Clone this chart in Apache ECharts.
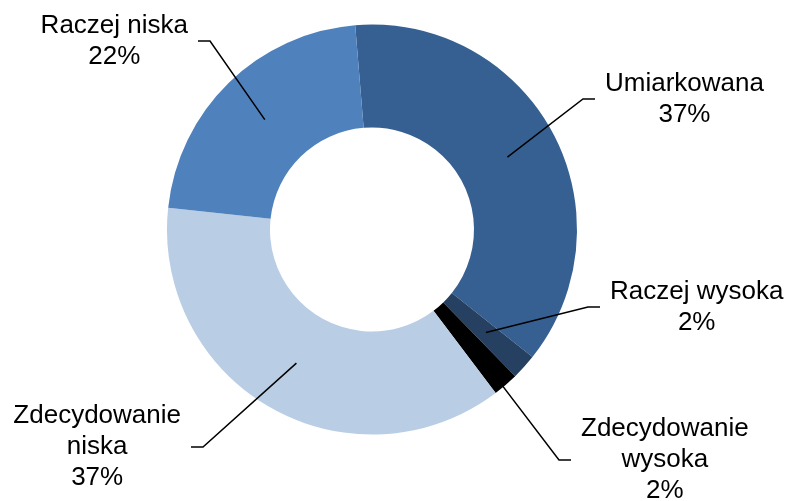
<!DOCTYPE html>
<html>
<head>
<meta charset="utf-8">
<style>
  html, body { margin: 0; padding: 0; background: #ffffff; }
  #chart { width: 789px; height: 501px; }
</style>
<script src="https://cdn.jsdelivr.net/npm/echarts@6/dist/echarts.min.js"></script>
</head>
<body>
<div id="chart"></div>
<script>
// Shares of answers (percent), clockwise from the top
const categories = ['Umiarkowana', 'Raczej wysoka', 'Zdecydowanie wysoka', 'Zdecydowanie niska', 'Raczej niska'];
const shares = [37, 2, 2, 37, 22];
const sliceColors = ['#376092', '#254061', '#000000', '#B9CDE5', '#4F81BD'];

// Leader-line elbow for each label: [x, y, side] (side: 1 = label on the right, -1 = on the left)
const labelElbows = [
  [583, 99, 1],
  [588, 307, 1],
  [559, 460, 1],
  [203, 447, -1],
  [210, 41, -1]
];

const pieCenter = [372, 229.5];
const innerR = 102;
const outerR = 205;
const startAngle = 94.7;

const seriesData = categories.map(function (name, i) {
  return { name: name, value: shares[i], itemStyle: { color: sliceColors[i] } };
});

function labelText(p) {
  const name = p.name.indexOf('Zdecydowanie') === 0 ? p.name.replace(' ', '\n') : p.name;
  return name + '\n' + Math.round(p.percent) + '%';
}

const chart = echarts.init(document.getElementById('chart'), null, { renderer: 'canvas' });

chart.setOption({
  backgroundColor: '#ffffff',
  animation: false,
  series: [
    {
      // the ring itself
      type: 'pie',
      center: pieCenter,
      radius: [innerR, outerR],
      startAngle: startAngle,
      clockwise: true,
      silent: true,
      label: { show: false },
      labelLine: { show: false },
      itemStyle: { borderWidth: 0 },
      emphasis: { disabled: true },
      data: seriesData
    },
    {
      // transparent pie reaching mid-ring: carries the labels and leader lines
      type: 'pie',
      center: pieCenter,
      radius: [0, (innerR + outerR) / 2],
      startAngle: startAngle,
      clockwise: true,
      silent: true,
      z: 3,
      percentPrecision: 0,
      avoidLabelOverlap: false,
      itemStyle: { color: 'rgba(0,0,0,0)', borderWidth: 0 },
      emphasis: { disabled: true },
      label: {
        show: true,
        position: 'outside',
        formatter: labelText,
        fontFamily: '"Liberation Sans", Arial, sans-serif',
        fontSize: 26,
        lineHeight: 31,
        color: '#000000',
        align: 'center'
      },
      labelLine: {
        show: true,
        length: 10,
        length2: 10,
        lineStyle: { color: '#000000', width: 1.5 }
      },
      labelLayout: function (p) {
        const e = labelElbows[p.dataIndex];
        const side = e[2];
        const endX = e[0] + side * 12;
        const x = endX + side * (10 + p.labelRect.width / 2);
        const start = p.labelLinePoints ? p.labelLinePoints[0] : [e[0], e[1]];
        return {
          x: x,
          y: e[1],
          align: 'center',
          verticalAlign: 'middle',
          labelLinePoints: [start, [e[0], e[1]], [endX, e[1]]]
        };
      },
      data: categories.map(function (name, i) {
        return { name: name, value: shares[i] };
      })
    }
  ]
});
</script>
</body>
</html>
